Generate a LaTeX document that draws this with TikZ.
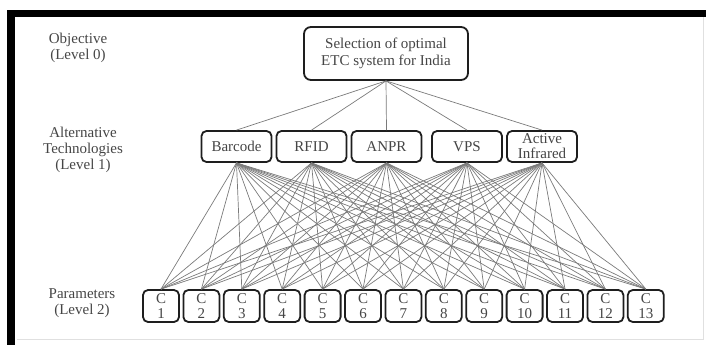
\documentclass[tikz,border=0pt]{standalone}
\usepackage{fontspec}
\setmainfont{Liberation Serif}
\usetikzlibrary{positioning}
\definecolor{framegray}{HTML}{1E1E1E}
\definecolor{textgray}{HTML}{454545}
\definecolor{linkgray}{HTML}{7A7A7A}

\begin{document}
\begin{tikzpicture}[x=1pt, y=-1pt,
    font=\fontsize{15}{17}\selectfont,
    goalbox/.style={rectangle, rounded corners=7pt, draw=framegray, line width=1.8pt,
                    fill=white, align=center, text=textgray, inner sep=0pt,
                    minimum width=164pt, minimum height=53pt},
    techbox/.style={goalbox, rounded corners=5pt, minimum width=70pt, minimum height=31pt,
                    font=\fontsize{15}{15}\selectfont},
    parambox/.style={techbox, minimum width=36pt, minimum height=32pt},
    levellabel/.style={align=center, text=textgray, font=\fontsize{15}{16}\selectfont},
    link/.style={draw=linkgray, line width=0.7pt}
  ]
    \useasboundingbox (0,0) rectangle (706,345);

    % Black frame along the top and left edges, faint inner rule
    \draw[black!12, line width=0.6pt] (17,339) -- (703,339) -- (703,17);
    \fill[black] (7,10) rectangle (706,17);
    \fill[black] (7,10) rectangle (15,345);

    % Level labels on the left
    \node[levellabel] (lvl0) at (78,48)  {Objective\\(Level 0)};
    \node[levellabel] (lvl1) at (83,150) {Alternative\\Technologies\\(Level 1)};
    \node[levellabel] (lvl2) at (82,303) {Parameters\\(Level 2)};

    % Objective
    \node[goalbox] (goal) at (386,53.5) {Selection of optimal\\ETC system for India};

    % Alternatives
    \node[techbox] (barcode)  at (236.5,146.5) {Barcode};
    \node[techbox] (rfid)     at (311.5,146.5) {RFID};
    \node[techbox] (anpr)     at (386.5,146.5) {ANPR};
    \node[techbox] (vps)      at (467,146.5)   {VPS};
    \node[techbox] (infrared) at (542,146.5)   {Active\\Infrared};

    % Parameters C1 .. C13
    \foreach \i in {1,...,13}
      \node[parambox] (c\i) at ({161+40.4*(\i-1)},306) {C\\\i};

    % Links objective -> alternatives -> parameters
    \foreach \t in {barcode,rfid,anpr,vps,infrared} {
      \draw[link] (goal.south) -- (\t.north);
      \foreach \i in {1,...,13}
        \draw[link] (\t.south) -- (c\i.north);
    }
  \end{tikzpicture}
\end{document}
